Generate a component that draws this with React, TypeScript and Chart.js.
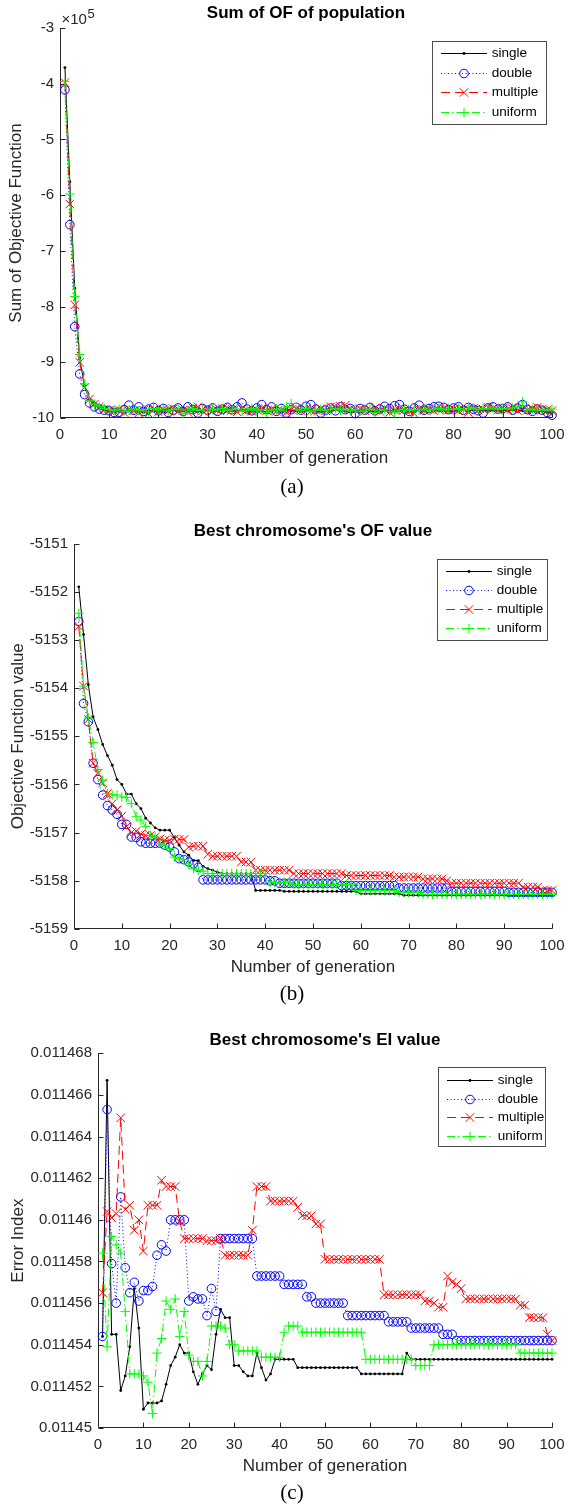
import React, { useEffect, useRef } from 'react';
import { Chart, registerables } from 'chart.js';
Chart.register(...registerables);

const FONT = '"Liberation Sans", Arial, Helvetica, sans-serif';
const SERIF = '"Liberation Serif", "Times New Roman", serif';
const AXIS_COLOR = '#262626';
const TICK_SIZE = 15;
const LABEL_SIZE = 17;
const TITLE_SIZE = 17;
const LEGEND_SIZE = 13.5;

// ---------- categories ----------
const generations = Array.from({ length: 100 }, (_, i) => i + 1);
const seriesNames = ['single', 'double', 'multiple', 'uniform'];

// ---------- (a) Sum of OF of population ----------
const sumSingle = [
  -3.71e5, -5.76e5, -7.67e5, -8.92e5, -9.42e5, -9.68e5, -9.77e5, -9.82e5, -9.85e5,
  -9.88e5, -9.87e5, -9.89e5, -9.88e5, -9.86e5, -9.87e5, -9.88e5, -9.9e5, -9.87e5, -9.86e5,
  -9.88e5, -9.87e5, -9.85e5, -9.86e5, -9.88e5, -9.87e5, -9.86e5, -9.88e5, -9.89e5, -9.87e5,
  -9.86e5, -9.88e5, -9.87e5, -9.86e5, -9.85e5, -9.87e5, -9.88e5, -9.86e5, -9.87e5, -9.88e5,
  -9.86e5, -9.87e5, -9.89e5, -9.87e5, -9.86e5, -9.88e5, -9.85e5, -9.87e5, -9.86e5, -9.88e5,
  -9.87e5, -9.86e5, -9.88e5, -9.89e5, -9.87e5, -9.86e5, -9.85e5, -9.87e5, -9.88e5, -9.86e5,
  -9.87e5, -9.88e5, -9.86e5, -9.87e5, -9.89e5, -9.88e5, -9.86e5, -9.87e5, -9.88e5, -9.87e5,
  -9.86e5, -9.88e5, -9.87e5, -9.86e5, -9.87e5, -9.85e5, -9.86e5, -9.87e5, -9.86e5, -9.88e5,
  -9.87e5, -9.86e5, -9.85e5, -9.87e5, -9.86e5, -9.85e5, -9.87e5, -9.86e5, -9.85e5, -9.86e5,
  -9.87e5, -9.86e5, -9.85e5, -9.86e5, -9.87e5, -9.86e5, -9.88e5, -9.87e5, -9.88e5, -9.9e5, -9.91e5,
];
const sumDouble = [
  -4.11e5, -6.53e5, -8.36e5, -9.21e5, -9.58e5, -9.73e5, -9.8e5, -9.84e5, -9.86e5,
  -9.87e5, -9.9e5, -9.9e5, -9.85e5, -9.77e5, -9.86e5, -9.8e5, -9.88e5, -9.84e5, -9.81e5,
  -9.87e5, -9.83e5, -9.9e5, -9.86e5, -9.82e5, -9.88e5, -9.8e5, -9.85e5, -9.91e5, -9.83e5,
  -9.86e5, -9.82e5, -9.88e5, -9.84e5, -9.81e5, -9.85e5, -9.8e5, -9.73e5, -9.84e5, -9.87e5,
  -9.82e5, -9.76e5, -9.85e5, -9.8e5, -9.88e5, -9.83e5, -9.91e5, -9.85e5, -9.81e5, -9.86e5,
  -9.79e5, -9.76e5, -9.84e5, -9.91e5, -9.86e5, -9.82e5, -9.87e5, -9.8e5, -9.85e5, -9.83e5,
  -9.92e5, -9.83e5, -9.86e5, -9.81e5, -9.87e5, -9.84e5, -9.79e5, -9.83e5, -9.78e5, -9.76e5,
  -9.84e5, -9.88e5, -9.82e5, -9.77e5, -9.86e5, -9.83e5, -9.8e5, -9.79e5, -9.81e5, -9.85e5,
  -9.82e5, -9.8e5, -9.86e5, -9.81e5, -9.84e5, -9.87e5, -9.91e5, -9.82e5, -9.8e5, -9.84e5,
  -9.83e5, -9.8e5, -9.86e5, -9.82e5, -9.76e5, -9.85e5, -9.88e5, -9.84e5, -9.86e5, -9.9e5, -9.95e5,
];
const sumMultiple = [
  -3.98e5, -6.16e5, -7.97e5, -9.0e5, -9.45e5, -9.66e5, -9.75e5, -9.8e5, -9.84e5,
  -9.86e5, -9.88e5, -9.85e5, -9.9e5, -9.84e5, -9.87e5, -9.91e5, -9.86e5, -9.92e5, -9.85e5,
  -9.89e5, -9.84e5, -9.87e5, -9.83e5, -9.88e5, -9.86e5, -9.9e5, -9.82e5, -9.8e5, -9.87e5,
  -9.84e5, -9.88e5, -9.86e5, -9.83e5, -9.87e5, -9.85e5, -9.89e5, -9.84e5, -9.86e5, -9.88e5,
  -9.85e5, -9.83e5, -9.87e5, -9.84e5, -9.88e5, -9.86e5, -9.9e5, -9.85e5, -9.83e5, -9.87e5,
  -9.84e5, -9.88e5, -9.86e5, -9.83e5, -9.87e5, -9.8e5, -9.82e5, -9.79e5, -9.77e5, -9.84e5,
  -9.86e5, -9.83e5, -9.87e5, -9.85e5, -9.82e5, -9.88e5, -9.84e5, -9.9e5, -9.86e5, -9.83e5,
  -9.85e5, -9.88e5, -9.92e5, -9.84e5, -9.86e5, -9.83e5, -9.87e5, -9.85e5, -9.82e5, -9.86e5,
  -9.84e5, -9.87e5, -9.85e5, -9.9e5, -9.83e5, -9.86e5, -9.84e5, -9.81e5, -9.83e5, -9.86e5,
  -9.82e5, -9.85e5, -9.83e5, -9.87e5, -9.84e5, -9.86e5, -9.83e5, -9.81e5, -9.84e5, -9.86e5, -9.87e5,
];
const sumUniform = [
  -3.96e5, -5.98e5, -7.82e5, -8.86e5, -9.39e5, -9.69e5, -9.75e5, -9.79e5, -9.83e5,
  -9.85e5, -9.87e5, -9.84e5, -9.88e5, -9.86e5, -9.84e5, -9.87e5, -9.85e5, -9.89e5, -9.83e5,
  -9.86e5, -9.82e5, -9.87e5, -9.85e5, -9.84e5, -9.92e5, -9.86e5, -9.83e5, -9.87e5, -9.85e5,
  -9.88e5, -9.84e5, -9.86e5, -9.83e5, -9.87e5, -9.85e5, -9.84e5, -9.88e5, -9.86e5, -9.83e5,
  -9.87e5, -9.85e5, -9.9e5, -9.86e5, -9.84e5, -9.87e5, -9.8e5, -9.74e5, -9.85e5, -9.87e5,
  -9.83e5, -9.88e5, -9.86e5, -9.84e5, -9.87e5, -9.85e5, -9.83e5, -9.86e5, -9.84e5, -9.87e5,
  -9.85e5, -9.88e5, -9.86e5, -9.84e5, -9.9e5, -9.86e5, -9.85e5, -9.88e5, -9.91e5, -9.86e5,
  -9.84e5, -9.87e5, -9.85e5, -9.86e5, -9.84e5, -9.87e5, -9.85e5, -9.83e5, -9.86e5, -9.84e5,
  -9.85e5, -9.83e5, -9.86e5, -9.84e5, -9.82e5, -9.85e5, -9.83e5, -9.84e5, -9.82e5, -9.85e5,
  -9.83e5, -9.84e5, -9.82e5, -9.8e5, -9.71e5, -9.86e5, -9.84e5, -9.87e5, -9.85e5, -9.86e5, -9.84e5,
];

// ---------- (b) Best chromosome's OF value ----------
const ofSingle = [
  -5151.9, -5152.89, -5153.93, -5154.6, -5154.86, -5155.17, -5155.4, -5155.6, -5155.9, -5156.0,
  -5156.2, -5156.2, -5156.4, -5156.5, -5156.7, -5156.8, -5156.9, -5156.95, -5156.95, -5156.95,
  -5157.1, -5157.26, -5157.4, -5157.47, -5157.58, -5157.58, -5157.7, -5157.75, -5157.78, -5157.82,
  -5157.85, -5157.85, -5157.85, -5157.85, -5157.85, -5157.85, -5157.85, -5158.2, -5158.2, -5158.2,
  -5158.2, -5158.2, -5158.2, -5158.22, -5158.22, -5158.22, -5158.22, -5158.22, -5158.22, -5158.22,
  -5158.22, -5158.22, -5158.22, -5158.22, -5158.22, -5158.22, -5158.22, -5158.22, -5158.22, -5158.27,
  -5158.27, -5158.27, -5158.27, -5158.27, -5158.27, -5158.27, -5158.27, -5158.27, -5158.3, -5158.3,
  -5158.3, -5158.3, -5158.3, -5158.3, -5158.3, -5158.3, -5158.3, -5158.3, -5158.3, -5158.3,
  -5158.3, -5158.3, -5158.3, -5158.3, -5158.3, -5158.3, -5158.3, -5158.3, -5158.3, -5158.3,
  -5158.3, -5158.3, -5158.3, -5158.3, -5158.3, -5158.3, -5158.3, -5158.3, -5158.3, -5158.3,
];
const ofDouble = [
  -5152.62, -5154.32, -5154.7, -5155.56, -5155.9, -5156.22, -5156.44, -5156.53, -5156.62, -5156.83,
  -5156.83, -5157.09, -5157.1, -5157.19, -5157.22, -5157.22, -5157.22, -5157.22, -5157.26, -5157.3,
  -5157.4, -5157.54, -5157.56, -5157.61, -5157.65, -5157.72, -5157.98, -5157.98, -5157.98, -5157.98,
  -5157.98, -5157.98, -5157.98, -5157.98, -5157.98, -5157.98, -5157.98, -5157.98, -5157.98, -5157.98,
  -5158.0, -5158.0, -5158.05, -5158.05, -5158.05, -5158.05, -5158.05, -5158.05, -5158.05, -5158.05,
  -5158.05, -5158.05, -5158.05, -5158.05, -5158.05, -5158.1, -5158.1, -5158.1, -5158.1, -5158.1,
  -5158.1, -5158.1, -5158.1, -5158.1, -5158.1, -5158.1, -5158.1, -5158.15, -5158.15, -5158.15,
  -5158.15, -5158.15, -5158.15, -5158.15, -5158.15, -5158.15, -5158.15, -5158.15, -5158.22, -5158.22,
  -5158.22, -5158.22, -5158.22, -5158.22, -5158.22, -5158.22, -5158.22, -5158.22, -5158.22, -5158.22,
  -5158.24, -5158.24, -5158.24, -5158.24, -5158.24, -5158.24, -5158.24, -5158.24, -5158.24, -5158.24,
];
const ofMultiple = [
  -5152.72, -5153.96, -5154.65, -5155.56, -5155.77, -5155.97, -5156.19, -5156.4, -5156.53, -5156.66,
  -5156.87, -5157.0, -5156.97, -5157.03, -5157.06, -5157.06, -5157.09, -5157.13, -5157.16, -5157.16,
  -5157.13, -5157.14, -5157.14, -5157.3, -5157.28, -5157.28, -5157.28, -5157.45, -5157.49, -5157.49,
  -5157.49, -5157.49, -5157.49, -5157.49, -5157.61, -5157.61, -5157.61, -5157.78, -5157.78, -5157.78,
  -5157.78, -5157.78, -5157.78, -5157.78, -5157.78, -5157.85, -5157.85, -5157.85, -5157.85, -5157.85,
  -5157.85, -5157.85, -5157.85, -5157.85, -5157.85, -5157.85, -5157.89, -5157.89, -5157.89, -5157.89,
  -5157.89, -5157.89, -5157.89, -5157.89, -5157.89, -5157.89, -5157.92, -5157.92, -5157.92, -5157.92,
  -5157.92, -5157.92, -5157.96, -5157.96, -5157.96, -5157.96, -5157.96, -5158.0, -5158.05, -5158.05,
  -5158.05, -5158.05, -5158.05, -5158.05, -5158.05, -5158.05, -5158.05, -5158.05, -5158.05, -5158.05,
  -5158.05, -5158.05, -5158.05, -5158.13, -5158.13, -5158.13, -5158.13, -5158.2, -5158.2, -5158.2,
];
const ofUniform = [
  -5152.45, -5153.96, -5154.62, -5155.13, -5155.69, -5155.91, -5156.19, -5156.22, -5156.22, -5156.26,
  -5156.27, -5156.4, -5156.67, -5156.74, -5156.87, -5157.06, -5157.09, -5157.23, -5157.26, -5157.33,
  -5157.51, -5157.54, -5157.56, -5157.65, -5157.75, -5157.78, -5157.8, -5157.85, -5157.85, -5157.85,
  -5157.85, -5157.85, -5157.85, -5157.85, -5157.85, -5157.85, -5157.85, -5157.85, -5157.85, -5157.85,
  -5158.03, -5158.03, -5158.03, -5158.03, -5158.03, -5158.08, -5158.08, -5158.08, -5158.08, -5158.08,
  -5158.08, -5158.08, -5158.08, -5158.08, -5158.08, -5158.08, -5158.08, -5158.08, -5158.2, -5158.2,
  -5158.2, -5158.2, -5158.2, -5158.2, -5158.2, -5158.2, -5158.2, -5158.24, -5158.24, -5158.24,
  -5158.24, -5158.24, -5158.28, -5158.28, -5158.28, -5158.28, -5158.28, -5158.28, -5158.28, -5158.28,
  -5158.28, -5158.28, -5158.28, -5158.28, -5158.28, -5158.28, -5158.28, -5158.28, -5158.28, -5158.28,
  -5158.28, -5158.28, -5158.28, -5158.28, -5158.28, -5158.28, -5158.28, -5158.28, -5158.28, -5158.28,
];

// ---------- (c) Best chromosome's EI value ----------
const eiSingle = [
  0.0114544, 0.0114667, 0.0114545, 0.0114545, 0.0114518, 0.0114525, 0.0114539, 0.0114567, 0.0114548, 0.0114509,
  0.0114512, 0.0114512, 0.0114512, 0.0114513, 0.0114521, 0.011453, 0.0114534, 0.011454, 0.0114536, 0.0114536,
  0.0114527, 0.0114521, 0.0114526, 0.011453, 0.0114528, 0.0114545, 0.0114557, 0.0114553, 0.0114553, 0.011453,
  0.011453, 0.0114527, 0.0114525, 0.0114525, 0.0114536, 0.0114529, 0.0114523, 0.0114526, 0.0114533, 0.0114533,
  0.0114533, 0.0114533, 0.0114533, 0.0114529, 0.0114529, 0.0114529, 0.0114529, 0.0114529, 0.0114529, 0.0114529,
  0.0114529, 0.0114529, 0.0114529, 0.0114529, 0.0114529, 0.0114529, 0.0114529, 0.0114526, 0.0114526, 0.0114526,
  0.0114526, 0.0114526, 0.0114526, 0.0114526, 0.0114526, 0.0114526, 0.0114526, 0.0114536, 0.0114533, 0.0114533,
  0.0114533, 0.0114533, 0.0114533, 0.0114533, 0.0114533, 0.0114533, 0.0114533, 0.0114533, 0.0114533, 0.0114533,
  0.0114533, 0.0114533, 0.0114533, 0.0114533, 0.0114533, 0.0114533, 0.0114533, 0.0114533, 0.0114533, 0.0114533,
  0.0114533, 0.0114533, 0.0114533, 0.0114533, 0.0114533, 0.0114533, 0.0114533, 0.0114533, 0.0114533, 0.0114533,
];
const eiDouble = [
  0.0114544, 0.0114653, 0.0114579, 0.011456, 0.0114611, 0.0114577, 0.0114565, 0.011457, 0.0114561, 0.0114566,
  0.0114566, 0.0114568, 0.0114583, 0.0114588, 0.0114585, 0.01146, 0.01146, 0.01146, 0.01146, 0.0114561,
  0.0114563, 0.0114562, 0.0114562, 0.0114554, 0.0114567, 0.0114556, 0.0114591, 0.0114591, 0.0114591, 0.0114591,
  0.0114591, 0.0114591, 0.0114591, 0.0114591, 0.0114573, 0.0114573, 0.0114573, 0.0114573, 0.0114573, 0.0114573,
  0.0114569, 0.0114569, 0.0114569, 0.0114569, 0.0114569, 0.0114563, 0.0114563, 0.011456, 0.011456, 0.011456,
  0.011456, 0.011456, 0.011456, 0.011456, 0.0114554, 0.0114554, 0.0114554, 0.0114554, 0.0114554, 0.0114554,
  0.0114554, 0.0114554, 0.0114554, 0.0114551, 0.0114551, 0.0114551, 0.0114551, 0.0114551, 0.0114548, 0.0114548,
  0.0114548, 0.0114548, 0.0114548, 0.0114548, 0.0114548, 0.0114545, 0.0114545, 0.0114545, 0.0114542, 0.0114542,
  0.0114542, 0.0114542, 0.0114542, 0.0114542, 0.0114542, 0.0114542, 0.0114542, 0.0114542, 0.0114542, 0.0114542,
  0.0114542, 0.0114542, 0.0114542, 0.0114542, 0.0114542, 0.0114542, 0.0114542, 0.0114542, 0.0114542, 0.0114542,
];
const eiMultiple = [
  0.0114565, 0.0114604, 0.0114601, 0.0114603, 0.0114649, 0.0114605, 0.0114607, 0.0114595, 0.01146, 0.0114585,
  0.0114607, 0.0114607, 0.0114607, 0.0114619, 0.0114616, 0.0114616, 0.0114616, 0.0114599, 0.0114591, 0.0114591,
  0.0114591, 0.0114591, 0.0114591, 0.011459, 0.011459, 0.011459, 0.0114591, 0.0114583, 0.0114583, 0.0114583,
  0.0114583, 0.0114583, 0.0114583, 0.0114595, 0.0114616, 0.0114616, 0.0114616, 0.0114609, 0.0114609, 0.0114609,
  0.0114609, 0.0114609, 0.0114609, 0.0114606, 0.0114602, 0.0114602, 0.0114602, 0.0114598, 0.0114598, 0.0114581,
  0.0114581, 0.0114581, 0.0114581, 0.0114581, 0.0114581, 0.0114581, 0.0114581, 0.0114581, 0.0114581, 0.0114581,
  0.0114581, 0.0114581, 0.0114564, 0.0114564, 0.0114564, 0.0114564, 0.0114564, 0.0114564, 0.0114564, 0.0114564,
  0.0114564, 0.0114561, 0.0114561, 0.011456, 0.0114558, 0.0114558, 0.0114573, 0.011457, 0.0114569, 0.0114567,
  0.0114562, 0.0114562, 0.0114562, 0.0114562, 0.0114562, 0.0114562, 0.0114562, 0.0114562, 0.0114562, 0.0114562,
  0.0114562, 0.0114562, 0.0114559, 0.0114559, 0.0114553, 0.0114553, 0.0114553, 0.0114553, 0.0114545, 0.0114542,
];
const eiUniform = [
  0.0114584, 0.0114539, 0.0114592, 0.0114588, 0.0114584, 0.0114556, 0.0114526, 0.0114526, 0.0114526, 0.0114525,
  0.0114522, 0.0114507, 0.0114536, 0.0114543, 0.0114561, 0.0114557, 0.0114562, 0.0114544, 0.0114556, 0.0114535,
  0.0114532, 0.0114532, 0.0114525, 0.0114532, 0.0114549, 0.0114549, 0.0114549, 0.0114548, 0.011454, 0.011454,
  0.0114537, 0.0114537, 0.0114537, 0.0114537, 0.0114537, 0.0114534, 0.0114534, 0.0114534, 0.0114534, 0.0114534,
  0.0114546, 0.0114549, 0.0114549, 0.0114549, 0.0114546, 0.0114546, 0.0114546, 0.0114546, 0.0114546, 0.0114546,
  0.0114546, 0.0114546, 0.0114546, 0.0114546, 0.0114546, 0.0114546, 0.0114546, 0.0114546, 0.0114533, 0.0114533,
  0.0114533, 0.0114533, 0.0114533, 0.0114533, 0.0114533, 0.0114533, 0.0114533, 0.0114533, 0.0114533, 0.011453,
  0.011453, 0.011453, 0.011453, 0.011454, 0.011454, 0.011454, 0.011454, 0.011454, 0.011454, 0.011454,
  0.011454, 0.011454, 0.011454, 0.011454, 0.011454, 0.011454, 0.011454, 0.011454, 0.011454, 0.011454,
  0.011454, 0.011454, 0.0114536, 0.0114536, 0.0114536, 0.0114536, 0.0114536, 0.0114536, 0.0114536, 0.0114536,
];

// ---------- styles ----------
const STYLES = [
  { color: '#000000', dash: [] as number[], marker: 'dot' },
  { color: '#0000ff', dash: [1, 2.5], marker: 'circle' },
  { color: '#ff0000', dash: [9, 5], marker: 'x' },
  { color: '#00ff00', dash: [8, 3, 1.5, 3], marker: 'plus' },
];

function pointOpts(marker: string, color: string) {
  if (marker === 'dot') return { pointStyle: 'circle', pointRadius: 1.4, pointBackgroundColor: color, pointBorderColor: color, pointBorderWidth: 0 };
  if (marker === 'circle') return { pointStyle: 'circle', pointRadius: 4.3, pointBackgroundColor: 'rgba(0,0,0,0)', pointBorderColor: color, pointBorderWidth: 1 };
  if (marker === 'x') return { pointStyle: 'crossRot', pointRadius: 6, pointBackgroundColor: color, pointBorderColor: color, pointBorderWidth: 1 };
  return { pointStyle: 'cross', pointRadius: 4.7, pointBackgroundColor: color, pointBorderColor: color, pointBorderWidth: 1 };
}

function drawMarker(ctx: CanvasRenderingContext2D, marker: string, color: string, x: number, y: number) {
  ctx.save();
  ctx.setLineDash([]);
  ctx.strokeStyle = color;
  ctx.fillStyle = color;
  ctx.lineWidth = 1;
  ctx.beginPath();
  if (marker === 'dot') {
    ctx.arc(x, y, 1.4, 0, Math.PI * 2);
    ctx.fill();
  } else if (marker === 'circle') {
    ctx.arc(x, y, 4.3, 0, Math.PI * 2);
    ctx.stroke();
  } else if (marker === 'x') {
    const r = 4.2;
    ctx.moveTo(x - r, y - r); ctx.lineTo(x + r, y + r);
    ctx.moveTo(x - r, y + r); ctx.lineTo(x + r, y - r);
    ctx.stroke();
  } else {
    const r = 4.7;
    ctx.moveTo(x - r, y); ctx.lineTo(x + r, y);
    ctx.moveTo(x, y - r); ctx.lineTo(x, y + r);
    ctx.stroke();
  }
  ctx.restore();
}

type Cfg = {
  top: number; height: number;
  plotLeft: number; plotRight: number; plotTop: number; plotBottom: number;
  title: string; titleY: number;
  yLabel: string; yLabelX: number;
  xLabel: string; xLabelY: number;
  caption: string; captionY: number;
  legend: { x: number; y: number; w: number; h: number; row0: number; step: number };
  yMin: number; yMax: number; yStep: number;
  yFmt: (v: number) => string;
  exponent?: boolean;
  series: number[][];
};

const CONFIGS: Cfg[] = [
  {
    top: 0, height: 500,
    plotLeft: 60, plotRight: 560, plotTop: 28, plotBottom: 418,
    title: 'Sum of OF of population', titleY: 13,
    yLabel: 'Sum of Objective Function', yLabelX: 16,
    xLabel: 'Number of generation', xLabelY: 458,
    caption: '(a)', captionY: 487,
    legend: { x: 431.7, y: 40.7, w: 113.6, h: 82.6, row0: 12.6, step: 19.4 },
    yMin: -10e5, yMax: -3e5, yStep: 1e5,
    yFmt: (v) => String(Math.round(v / 1e5)),
    exponent: true,
    series: [sumSingle, sumDouble, sumMultiple, sumUniform],
  },
  {
    top: 500, height: 510,
    plotLeft: 74, plotRight: 559, plotTop: 43.5, plotBottom: 429,
    title: "Best chromosome's OF value", titleY: 31,
    yLabel: 'Objective Function value', yLabelX: 18,
    xLabel: 'Number of generation', xLabelY: 467.5,
    caption: '(b)', captionY: 494,
    legend: { x: 436.7, y: 58.7, w: 110, h: 80.6, row0: 12.3, step: 19 },
    yMin: -5159, yMax: -5151, yStep: 1,
    yFmt: (v) => String(Math.round(v)),
    series: [ofSingle, ofDouble, ofMultiple, ofUniform],
  },
  {
    top: 1010, height: 494,
    plotLeft: 98, plotRight: 560, plotTop: 43.3, plotBottom: 418,
    title: "Best chromosome's EI value", titleY: 30.7,
    yLabel: 'Error Index', yLabelX: 18,
    xLabel: 'Number of generation', xLabelY: 456.5,
    caption: '(c)', captionY: 483,
    legend: { x: 437.7, y: 57.3, w: 107.3, h: 78.7, row0: 12.7, step: 18.5 },
    yMin: 0.01145, yMax: 0.011468, yStep: 0.000002,
    yFmt: (v) => String(Number(v.toFixed(6))),
    series: [eiSingle, eiDouble, eiMultiple, eiUniform],
  },
];

function makeDecor(cfg: Cfg) {
  return {
    id: 'decor',
    beforeDatasetsDraw(chart: any) {
      const { ctx, chartArea: a, scales } = chart;
      const xs = scales.x, ys = scales.y;
      ctx.save();
      ctx.strokeStyle = AXIS_COLOR;
      ctx.lineWidth = 1;
      ctx.setLineDash([]);
      const L = Math.round(a.left) + 0.5;
      const B = Math.round(a.bottom) - 0.5;
      ctx.beginPath();
      ctx.moveTo(L, Math.round(a.top));
      ctx.lineTo(L, B);
      ctx.lineTo(Math.round(a.right) + 0.5, B);
      for (const t of xs.ticks) {
        const px = Math.round(xs.getPixelForValue(t.value)) + 0.5;
        ctx.moveTo(px, B);
        ctx.lineTo(px, B - 5);
      }
      for (const t of ys.ticks) {
        const py = Math.round(ys.getPixelForValue(t.value)) + 0.5;
        ctx.moveTo(L, py);
        ctx.lineTo(L + 5, py);
      }
      ctx.stroke();
      ctx.restore();
    },
    afterDraw(chart: any) {
      const { ctx, chartArea: a } = chart;
      const cx = (a.left + a.right) / 2;
      ctx.save();
      ctx.textAlign = 'center';
      ctx.textBaseline = 'middle';
      // title
      ctx.fillStyle = '#000';
      ctx.font = `bold ${TITLE_SIZE}px ${FONT}`;
      ctx.fillText(cfg.title, cx, cfg.titleY);
      // x label
      ctx.fillStyle = AXIS_COLOR;
      ctx.font = `${LABEL_SIZE}px ${FONT}`;
      ctx.fillText(cfg.xLabel, cx, cfg.xLabelY);
      // y label
      ctx.save();
      ctx.translate(cfg.yLabelX, (a.top + a.bottom) / 2);
      ctx.rotate(-Math.PI / 2);
      ctx.fillText(cfg.yLabel, 0, 0);
      ctx.restore();
      // caption
      ctx.fillStyle = '#000';
      ctx.font = `21px ${SERIF}`;
      ctx.fillText(cfg.caption, 292, cfg.captionY);
      // exponent
      if (cfg.exponent) {
        ctx.textAlign = 'left';
        ctx.textBaseline = 'alphabetic';
        ctx.fillStyle = AXIS_COLOR;
        ctx.font = `${TICK_SIZE}px ${FONT}`;
        ctx.fillText('\u00d710', a.left + 1.5, 23.5);
        const w = ctx.measureText('\u00d710').width;
        ctx.font = `13px ${FONT}`;
        ctx.fillText('5', a.left + 1.5 + w + 0.5, 18);
      }
      // legend
      const lg = cfg.legend;
      ctx.setLineDash([]);
      ctx.fillStyle = '#ffffff';
      ctx.fillRect(lg.x, lg.y, lg.w, lg.h);
      ctx.strokeStyle = '#4d4d4d';
      ctx.lineWidth = 1;
      ctx.strokeRect(Math.round(lg.x) + 0.5, Math.round(lg.y) + 0.5, Math.round(lg.w), Math.round(lg.h));
      ctx.font = `${LEGEND_SIZE}px ${FONT}`;
      ctx.textAlign = 'left';
      ctx.textBaseline = 'middle';
      for (let i = 0; i < 4; i++) {
        const st = STYLES[i];
        const ry = Math.round(lg.y + lg.row0 + i * lg.step) + 0.5;
        const x0 = lg.x + 9.3, x1 = lg.x + 55.3;
        ctx.save();
        ctx.strokeStyle = st.color;
        ctx.lineWidth = 1;
        ctx.setLineDash(st.dash);
        ctx.beginPath();
        ctx.moveTo(x0, ry);
        ctx.lineTo(x1, ry);
        ctx.stroke();
        ctx.restore();
        drawMarker(ctx, st.marker, st.color, (x0 + x1) / 2, ry);
        ctx.fillStyle = '#000';
        ctx.fillText(seriesNames[i], lg.x + 60, ry);
      }
      ctx.restore();
    },
  };
}

function Plot({ cfg }: { cfg: Cfg }) {
  const ref = useRef<HTMLCanvasElement>(null);
  useEffect(() => {
    const canvas = ref.current!;
    const tickFont = { family: FONT, size: TICK_SIZE };
    const chart = new Chart(canvas, {
      type: 'line',
      data: {
        datasets: cfg.series.map((s, i) => ({
          label: seriesNames[i],
          data: s.map((v, j) => ({ x: generations[j], y: v })),
          borderColor: STYLES[i].color,
          borderWidth: 1,
          borderDash: STYLES[i].dash,
          tension: 0,
          fill: false,
          clip: false,
          order: 4 - i,
          ...pointOpts(STYLES[i].marker, STYLES[i].color),
        })) as any,
      },
      options: {
        animation: false,
        responsive: false,
        devicePixelRatio: 1,
        events: [],
        layout: { padding: { left: 0, right: 572 - cfg.plotRight, top: cfg.plotTop, bottom: 0 } },
        plugins: { legend: { display: false }, title: { display: false }, tooltip: { enabled: false } },
        scales: {
          x: {
            type: 'linear', min: 0, max: 100,
            grid: { display: false, drawTicks: false },
            border: { display: false },
            ticks: { stepSize: 10, autoSkip: false, maxRotation: 0, font: tickFont, color: AXIS_COLOR, padding: 7.5 },
            afterFit: (s: any) => { s.height = cfg.height - cfg.plotBottom; },
          },
          y: {
            type: 'linear', min: cfg.yMin, max: cfg.yMax,
            grid: { display: false, drawTicks: false },
            border: { display: false },
            ticks: { stepSize: cfg.yStep, autoSkip: false, font: tickFont, color: AXIS_COLOR, padding: 6, callback: (v: any) => cfg.yFmt(Number(v)) },
            afterFit: (s: any) => { s.width = cfg.plotLeft; },
          },
        },
      } as any,
      plugins: [makeDecor(cfg)],
    });
    return () => chart.destroy();
  }, [cfg]);
  return (
    <canvas
      ref={ref}
      width={572}
      height={cfg.height}
      style={{ position: 'absolute', left: 0, top: cfg.top, width: 572, height: cfg.height, display: 'block' }}
    />
  );
}

export default function App() {
  return (
    <div style={{ position: 'absolute', left: 0, top: 0, width: 572, height: 1504, background: '#ffffff' }}>
      {CONFIGS.map((c, i) => (
        <Plot key={i} cfg={c} />
      ))}
    </div>
  );
}
